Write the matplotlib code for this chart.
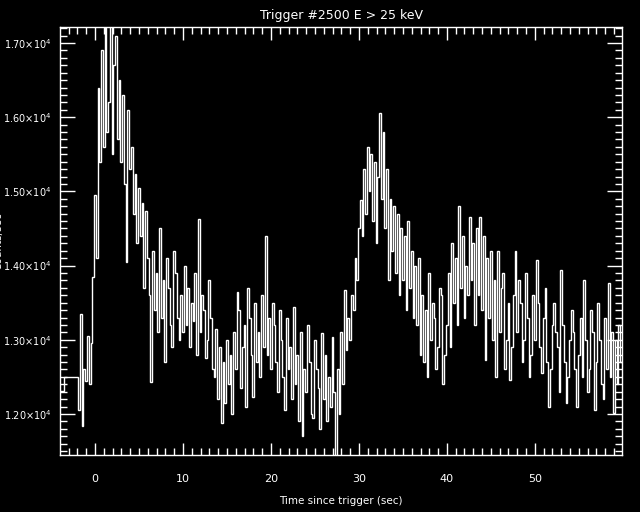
import numpy as np
from matplotlib import pyplot as plt
from matplotlib.ticker import MultipleLocator, FixedLocator

# coarse pre-trigger bins
pre_edges = [-3.97, -3.5, -1.9]
pre_counts = [12310, 12500]

# fine bins, 0.2 s wide, starting at -1.9 s
bin_start = -1.9
bin_width = 0.2
counts = [
    12050, 13350, 11840, 12600, 12450, 13050, 12400, 12950, 13850, 14950,
    14100, 16400, 15400, 16900, 15600, 17400, 15800, 16200, 17350, 15500,
    16700, 17100, 15700, 16500, 15400, 16300, 15100, 14050, 16100, 15300,
    15600, 14700, 15230, 14300, 15050, 14400, 14850, 13700, 14740, 14100,
    13600, 12430, 14200, 13400, 13900, 13100, 14500, 13300, 13800, 12700,
    14100, 13700, 13200, 12900, 14200, 13900, 13300, 13000, 13600, 13100,
    14000, 13200, 13700, 12900, 13500, 13250, 13900, 12800, 14630, 13100,
    13600, 13400, 12750, 13000, 13800, 13300, 12600, 12500, 13150, 12200,
    12900, 11880, 12700, 12150, 13000, 12400, 12800, 12000, 13100, 12600,
    13650, 13400, 12350, 12900, 13200, 12100, 13700, 13300, 12800, 12230,
    13500, 12700, 13100, 12500, 13600, 12900, 14400, 12800, 13300, 12600,
    13500, 13200, 12700, 12300, 13400, 13000, 12500, 12050, 13300, 12600,
    12900, 12200, 13440, 12400, 12800, 11900, 13100, 11700, 12600, 12300,
    13200, 12700, 12000, 11950, 13000, 12600, 12350, 11800, 13090, 12200,
    12800, 11900, 12500, 12100, 13040, 12300, 11400, 12600, 12000, 13100,
    12400, 13670, 12860, 13300, 13000, 13600, 13400, 14100, 13800, 14500,
    14880, 14400, 15300, 14700, 15600, 15000, 15500, 14600, 15400, 14300,
    15200, 16060, 14900, 15800, 14500, 15300, 13800, 14900, 14200, 14800,
    13900, 14700, 13600, 14500, 13800, 14400, 13400, 14600, 13700, 14200,
    13300, 14000, 13200, 14100, 12800, 13600, 12700, 13400, 12500, 13900,
    13000, 13500, 13300, 12600, 12900, 13700, 13600, 12400, 12800, 13200,
    13900, 12900, 14300, 13500, 14100, 13200, 14800, 13700, 14400, 13300,
    14000, 13600, 14650, 13800, 14300, 13200, 14500, 13600, 14650, 13400,
    14400, 12730, 14100, 13300, 14200, 13000, 13800, 12500, 14200, 13100,
    13700, 13900, 12600, 13000, 13500, 12460, 12900, 13600, 14200, 13100,
    13800, 13500, 12700, 13000, 13900, 13300, 12500, 12800, 13600, 13000,
    14080, 13500, 12900, 12550, 13300, 13700, 12700, 12100, 12600, 13200,
    13500, 13100, 12900, 12300, 13940, 13200, 12700, 12150, 12500, 13000,
    13400, 13100, 12600, 12100, 12800, 13300, 12500, 13800, 13000, 12300,
    12600, 13400, 13100, 12050, 12700, 13500, 13000, 12400, 12200, 13300,
    12600, 13770, 12500, 13100, 12010, 13000, 12400, 13200, 12700,
]

yticks = [12000, 13000, 14000, 15000, 16000, 17000]
xticks = [0, 10, 20, 30, 40, 50]

edges = pre_edges + list(bin_start + bin_width * np.arange(1, len(counts) + 1))
vals = pre_counts + counts

plt.rcParams['font.family'] = 'DejaVu Sans'
fig = plt.figure(figsize=(6.4, 5.12), dpi=100, facecolor='black')
ax = fig.add_axes([60 / 640, 57 / 512, 562 / 640, 428 / 512], facecolor='black')

ax.stairs(vals, edges, color='white', linewidth=1.0, baseline=None)

ax.set_xlim(-3.97, 59.9)
ax.set_ylim(11447, 17216)

ax.xaxis.set_major_locator(FixedLocator(xticks))
ax.xaxis.set_minor_locator(MultipleLocator(1))
ax.yaxis.set_major_locator(FixedLocator(yticks))
ax.yaxis.set_minor_locator(MultipleLocator(100))
ax.set_yticklabels([r'%.2f$\times$10$^{4}$' % (v / 1e4) for v in yticks])

for s in ax.spines.values():
    s.set_color('white')
    s.set_linewidth(1.0)
ax.tick_params(which='both', direction='in', colors='white', top=True, right=True,
               labelsize=8, width=1.0)
ax.tick_params(axis='y', labelsize=7)
ax.tick_params(axis='x', which='major', length=9, pad=14)
ax.tick_params(axis='y', which='major', length=11, pad=6)
ax.tick_params(which='minor', length=5)

ax.set_title('Trigger #2500 E > 25 keV', color='white', fontsize=9, pad=6)
ax.set_xlabel('Time since trigger (sec)', color='white', fontsize=7.5, labelpad=8)
fig.text(-0.002, 0.53, 'Counts/sec', color='white', fontsize=7.5, rotation=90,
         ha='center', va='center')

plt.savefig('out.png', facecolor='black')
